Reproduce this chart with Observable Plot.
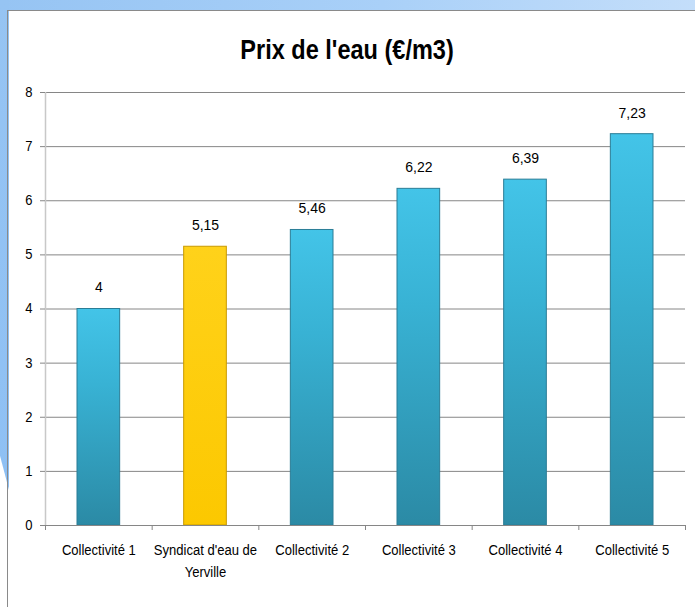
<!DOCTYPE html>
<html><head><meta charset="utf-8">
<script src="https://cdn.jsdelivr.net/npm/d3@7"></script>
<script src="https://cdn.jsdelivr.net/npm/@observablehq/plot@0.6"></script>
<style>
body{margin:0;background:#fff;}
#page{position:relative;width:695px;height:607px;overflow:hidden;background:#fff;font-family:"Liberation Sans",sans-serif;}
#bgTop{position:absolute;left:0;top:0;width:695px;height:11px;background:linear-gradient(to right,#96c4f3,#a9d0f8 55%,#c4defa);}
#bgLeft{position:absolute;left:0;top:0;width:9px;height:490px;background:linear-gradient(#96c4f3,#8ec0f4);clip-path:polygon(0 0,100% 0,100% 100%,0 93%);}
#panel{position:absolute;left:7px;top:10px;width:700px;height:610px;border-left:1.5px solid #8a8a8a;border-top:1.5px solid #8a8a8a;}
#title{position:absolute;left:0;top:33px;width:695px;text-align:center;font-weight:bold;font-size:28px;line-height:34px;color:#000;}
#title span{display:inline-block;transform:scaleX(0.84);transform-origin:50% 50%;}
#chart{position:absolute;left:0;top:80px;}
</style>
</head><body>
<div id="page">
  <div id="bgTop"></div>
  <div id="bgLeft"></div>
  <div id="panel"></div>
  <div id="title"><span>Prix de l'eau (€/m3)</span></div>
  <div id="chart"></div>
</div>
<script>
const categories = ["Collectivité 1", "Syndicat d'eau de\nYerville", "Collectivité 2", "Collectivité 3", "Collectivité 4", "Collectivité 5"];
const values = [4, 5.15, 5.46, 6.22, 6.39, 7.23];
const highlighted = [false, true, false, false, false, false];
const yTicks = [0, 1, 2, 3, 4, 5, 6, 7, 8];

const data = categories.map((c, i) => ({
  i, c, v: values[i],
  label: String(values[i]).replace(".", ","),
  fill: highlighted[i] ? "url(#gradYellow)" : "url(#gradBlue)",
  stroke: highlighted[i] ? "#c99a00" : "#2a7d96"
}));

const defs = () => {
  const d = d3.create("svg:defs");
  const gb = d.append("linearGradient").attr("id", "gradBlue").attr("x1", 0).attr("y1", 0).attr("x2", 0).attr("y2", 1);
  gb.append("stop").attr("offset", "0%").attr("stop-color", "#43c4e8");
  gb.append("stop").attr("offset", "35%").attr("stop-color", "#38b2d4");
  gb.append("stop").attr("offset", "100%").attr("stop-color", "#2b8aa5");
  const gy = d.append("linearGradient").attr("id", "gradYellow").attr("x1", 0).attr("y1", 0).attr("x2", 0).attr("y2", 1);
  gy.append("stop").attr("offset", "0%").attr("stop-color", "#ffd21a");
  gy.append("stop").attr("offset", "100%").attr("stop-color", "#fcc800");
  return d.node();
};

const n = categories.length;
const chart = Plot.plot({
  width: 695,
  height: 527,
  marginTop: 12,
  marginBottom: 82,
  marginLeft: 45,
  marginRight: 10,
  style: {fontFamily: "'Liberation Sans', sans-serif", fontSize: "14px", color: "#000", background: "transparent"},
  x: {type: "linear", domain: [0, n], axis: null, label: null},
  y: {domain: [0, 8], axis: null, label: null},
  color: {type: "identity"},
  marks: [
    defs,
    Plot.gridY(yTicks, {stroke: "#868686", strokeOpacity: 1, strokeWidth: 1}),
    Plot.ruleX([0], {y1: 0, y2: 8, stroke: "#c8c8c8", strokeWidth: 1.5}),
    Plot.axisY(yTicks, {tickSize: 5, tickPadding: 8, stroke: "#868686", fontSize: 14, label: null, tickFormat: d => String(d)}),
    Plot.rectY(data, {x1: "i", x2: d => d.i + 1, y1: 0, y2: "v", insetLeft: 32, insetRight: 32, fill: "fill", stroke: "stroke", strokeWidth: 1}),
    Plot.ruleY([0], {stroke: "#868686", strokeWidth: 1}),
    Plot.axisX(d3.range(n + 1), {tickSize: 5, stroke: "#868686", label: null, tickFormat: () => ""}),
    Plot.axisX(categories.map((c, i) => i + 0.5), {tickSize: 0, tickPadding: 14, fontSize: 15, lineHeight: 1.45, label: null, tickFormat: v => categories[Math.floor(v)]}),
    Plot.text(data, {x: d => d.i + 0.5, y: "v", text: "label", dy: -21, fontSize: 14, fill: "#000"})
  ]
});
// narrow the axis typography (condensed face is not installed)
d3.select(chart).selectAll("g[aria-label='x-axis tick label'] text").each(function() {
  const t = this.getAttribute("transform");
  if (t) this.setAttribute("transform", t + " scale(0.87,1)");
});
d3.select(chart).selectAll("g[aria-label='y-axis tick label'] text").each(function() {
  const t = this.getAttribute("transform");
  if (t) this.setAttribute("transform", t + " scale(0.93,1)");
});
document.getElementById("chart").appendChild(chart);
</script>
</body></html>
